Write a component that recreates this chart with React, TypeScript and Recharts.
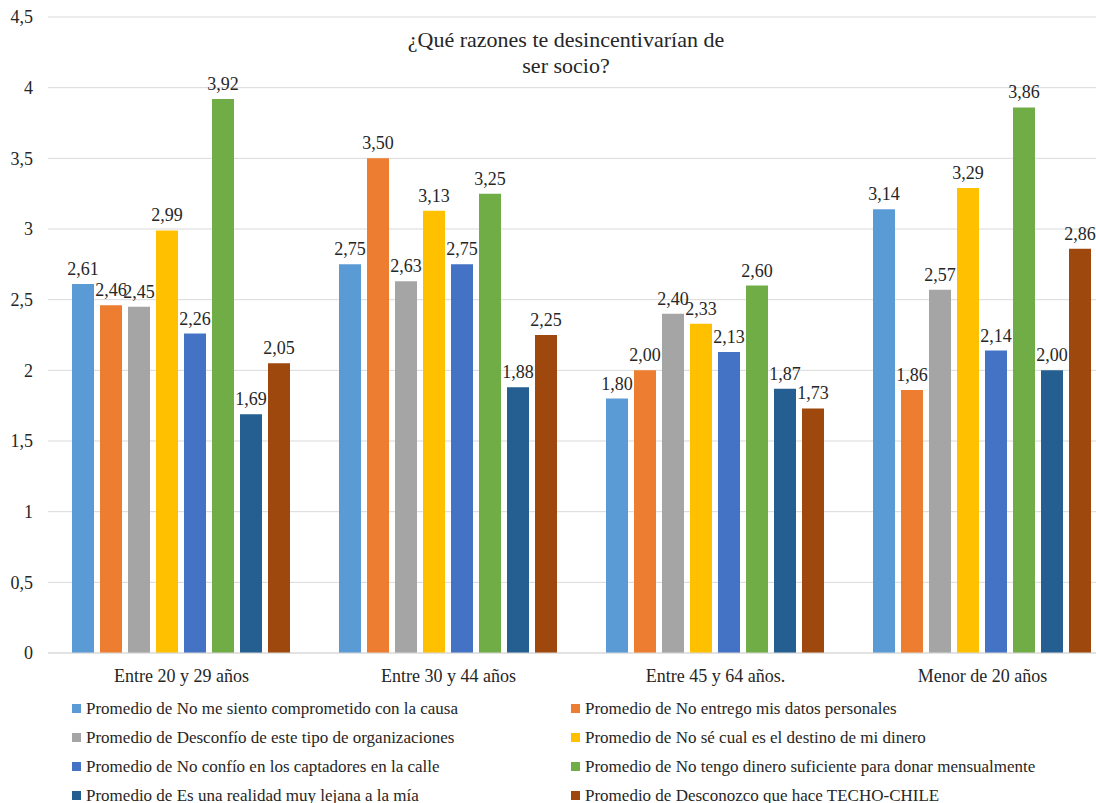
import React from "react";
import { Bar, BarChart, CartesianGrid, LabelList, Legend, XAxis, YAxis } from "recharts";

const categories = ["Entre 20 y 29 años", "Entre 30 y 44 años", "Entre 45 y 64 años.", "Menor de 20 años"];

const seriesNames = [
  "Promedio de No me siento comprometido con la causa",
  "Promedio de No entrego mis datos personales",
  "Promedio de Desconfío de este tipo de organizaciones",
  "Promedio de No sé cual es el destino de mi dinero",
  "Promedio de No confío en los captadores en la calle",
  "Promedio de No tengo dinero suficiente para donar mensualmente",
  "Promedio de Es una realidad muy lejana a la mía",
  "Promedio de Desconozco que hace TECHO-CHILE",
];

const seriesColors = ["#5B9BD5", "#ED7D31", "#A5A5A5", "#FFC000", "#4472C4", "#70AD47", "#255E91", "#9E480E"];

const noComprometido = [2.61, 2.75, 1.8, 3.14];
const noEntregoDatos = [2.46, 3.5, 2.0, 1.86];
const desconfio = [2.45, 2.63, 2.4, 2.57];
const noSeDestino = [2.99, 3.13, 2.33, 3.29];
const noConfioCaptadores = [2.26, 2.75, 2.13, 2.14];
const noTengoDinero = [3.92, 3.25, 2.6, 3.86];
const realidadLejana = [1.69, 1.88, 1.87, 2.0];
const desconozcoTecho = [2.05, 2.25, 1.73, 2.86];

const yTicks = [0, 0.5, 1, 1.5, 2, 2.5, 3, 3.5, 4, 4.5];

const allSeries = [
  noComprometido,
  noEntregoDatos,
  desconfio,
  noSeDestino,
  noConfioCaptadores,
  noTengoDinero,
  realidadLejana,
  desconozcoTecho,
];

const data = categories.map((cat, i) => {
  const row: Record<string, string | number> = { cat };
  allSeries.forEach((s, k) => {
    row["s" + k] = s[i];
  });
  return row;
});

const FONT = "Liberation Serif, Times New Roman, serif";
const TEXT = "#262626";

const fmtComma = (v: any) => Number(v).toFixed(2).replace(".", ",");
const fmtTick = (v: number) => String(v).replace(".", ",");

function YTick(props: any) {
  const { x, y, payload } = props;
  return (
    <text x={x} y={y} dy="0.35em" textAnchor="end" fontFamily={FONT} fontSize={18} fill={TEXT}>
      {fmtTick(payload.value)}
    </text>
  );
}

function XTick(props: any) {
  const { x, y, payload } = props;
  return (
    <text x={x} y={y} dy="0.71em" textAnchor="middle" fontFamily={FONT} fontSize={18} fill={TEXT}>
      {payload.value}
    </text>
  );
}

function BarValue(props: any) {
  const { x, y, width, value } = props;
  return (
    <text x={x + width / 2} y={y - 9} textAnchor="middle" fontFamily={FONT} fontSize={18} fill={TEXT}>
      {fmtComma(value)}
    </text>
  );
}

function LegendGrid(props: any) {
  // keep the series order (recharts sorts the payload by name)
  const items = [...(props.payload || [])].sort(
    (a: any, b: any) => seriesNames.indexOf(a.value) - seriesNames.indexOf(b.value)
  );
  return (
    <div
      style={{
        display: "grid",
        gridTemplateColumns: "499px 520px",
        gridAutoRows: "29px",
        paddingLeft: 72,
        fontFamily: FONT,
        fontSize: 17,
        color: TEXT,
      }}
    >
      {items.map((it: any) => (
        <div key={it.value} style={{ display: "flex", alignItems: "center", whiteSpace: "nowrap" }}>
          <span style={{ width: 9, height: 9, background: it.color, marginRight: 5, flex: "none" }} />
          <span>{it.value}</span>
        </div>
      ))}
    </div>
  );
}

export default function App() {
  return (
    <div
      style={{
        position: "fixed",
        left: 0,
        top: 0,
        width: 1096,
        height: 803,
        overflow: "hidden",
        background: "#fff",
        fontFamily: FONT,
      }}
    >
      <div
        style={{
          position: "absolute",
          left: 366,
          top: 27,
          width: 400,
          textAlign: "center",
          fontFamily: FONT,
          fontSize: 22,
          lineHeight: "26px",
          color: TEXT,
          zIndex: 2,
        }}
      >
        ¿Qué razones te desincentivarían de
        <br />
        ser socio?
      </div>
      <BarChart
        width={1124}
        height={803}
        data={data}
        margin={{ top: 17, right: 8, left: 0, bottom: 110 }}
        barCategoryGap={24}
        barGap={6}
      >
        <CartesianGrid vertical={false} stroke="#d9d9d9" />
        <XAxis
          dataKey="cat"
          height={40}
          tickLine={false}
          axisLine={{ stroke: "#d9d9d9" }}
          tickMargin={10}
          tick={<XTick />}
        />
        <YAxis
          width={48}
          domain={[0, 4.5]}
          ticks={yTicks}
          axisLine={false}
          tickLine={false}
          tickMargin={9}
          tick={<YTick />}
        />
        <Legend
          layout="horizontal"
          verticalAlign="middle"
          align="center"
          wrapperStyle={{ left: 0, top: 694, width: 1096 }}
          content={<LegendGrid />}
        />
        {seriesNames.map((name, k) => (
          <Bar key={name} dataKey={"s" + k} name={name} fill={seriesColors[k]} isAnimationActive={false}>
            <LabelList dataKey={"s" + k} content={<BarValue />} />
          </Bar>
        ))}
      </BarChart>
    </div>
  );
}
